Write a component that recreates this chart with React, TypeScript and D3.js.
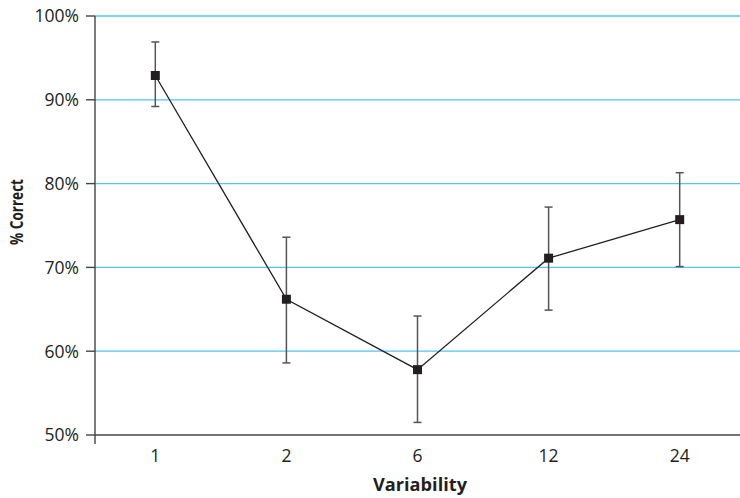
import * as d3 from "d3";

const W = 740;
const H = 498;
const margin = { top: 16, right: 0, bottom: 63, left: 95 };

const variability = ["1", "2", "6", "12", "24"];
const percentCorrect = [92.9, 66.2, 57.8, 71.1, 75.7];
const errLow = [89.2, 58.6, 51.5, 64.9, 70.1];
const errHigh = [96.9, 73.6, 64.2, 77.2, 81.3];
const yTicks = [50, 60, 70, 80, 90, 100];

const font = "'Open Sans', 'Noto Sans', sans-serif";

export default function App() {
  const x = d3
    .scalePoint<string>()
    .domain(variability)
    .range([margin.left, W - margin.right])
    .padding(0.46);

  const y = d3
    .scaleLinear()
    .domain([50, 100])
    .range([H - margin.bottom, margin.top]);

  const line = d3
    .line<number>()
    .x((_, i) => x(variability[i])!)
    .y((d) => y(d));

  const axisY = y(50);

  return (
    <svg width={W} height={H} style={{ position: "absolute", left: 0, top: 0 }}>
      <rect width={W} height={H} fill="#fff" />

      {/* grid */}
      {yTicks.filter((t) => t > 50).map((t) => (
        <line key={t} x1={margin.left} x2={W} y1={y(t)} y2={y(t)} stroke="#52c5f2" strokeWidth={1.3} />
      ))}

      {/* axes */}
      <line x1={margin.left} x2={W} y1={axisY} y2={axisY} stroke="#444" strokeWidth={1.4} />
      <line x1={margin.left} x2={margin.left} y1={margin.top} y2={axisY + 9} stroke="#444" strokeWidth={1.4} />
      {yTicks.map((t) => (
        <g key={t}>
          <line x1={margin.left - 9} x2={margin.left} y1={y(t)} y2={y(t)} stroke="#444" strokeWidth={1.4} />
          <text x={margin.left - 16} y={y(t)} dy="0.36em" textAnchor="end" fontFamily={font} fontSize={17.5} fill="#231f20">
            {t}%
          </text>
        </g>
      ))}
      {variability.map((v) => (
        <text key={v} x={x(v)} y={axisY + 26.5} textAnchor="middle" fontFamily={font} fontSize={17.5} fill="#231f20">
          {v}
        </text>
      ))}

      <text
        x={420}
        y={491}
        textAnchor="middle"
        fontFamily={font}
        fontSize={17}
        fontWeight="bold"
        fill="#231f20"
        textLength={94}
        lengthAdjust="spacingAndGlyphs"
      >
        Variability
      </text>
      <text
        transform={`translate(23,212) rotate(-90)`}
        textAnchor="middle"
        fontFamily={font}
        fontSize={17}
        fontWeight="bold"
        fill="#231f20"
        textLength={66}
        lengthAdjust="spacingAndGlyphs"
      >
        % Correct
      </text>

      {/* error bars */}
      {variability.map((v, i) => (
        <g key={v} stroke="#555" strokeWidth={1.5}>
          <line x1={x(v)} x2={x(v)} y1={y(errLow[i])} y2={y(errHigh[i])} />
          <line x1={x(v)! - 4} x2={x(v)! + 4} y1={y(errLow[i])} y2={y(errLow[i])} />
          <line x1={x(v)! - 4} x2={x(v)! + 4} y1={y(errHigh[i])} y2={y(errHigh[i])} />
        </g>
      ))}

      <path d={line(percentCorrect) ?? ""} fill="none" stroke="#231f20" strokeWidth={1.3} />

      {percentCorrect.map((d, i) => (
        <rect key={i} x={x(variability[i])! - 4.5} y={y(d) - 4.5} width={9} height={9} fill="#231f20" />
      ))}
    </svg>
  );
}
